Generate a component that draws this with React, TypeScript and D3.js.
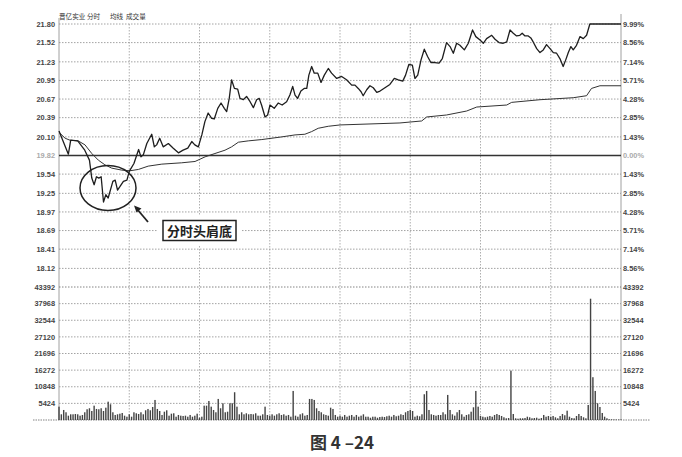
import React from "react";
import * as d3 from "d3";

// minute index (0..240) and price
const priceMinutes = [
  0, 4, 5, 8, 11, 13, 14, 15, 16, 17,
  18, 19, 20, 21, 23, 24, 25, 26, 27.5, 29,
  30, 32, 34, 35, 36, 37.5, 39.6, 40.7, 41.7, 43,
  44.5, 46.7, 48.8, 51, 53, 55, 56.7, 58, 59.5, 61,
  62.3, 63.7, 65.2, 66.3, 67.8, 69.2, 70.6, 71.6, 72.7, 73.7,
  74.9, 76.3, 77.3, 78.7, 80.1, 81.6, 83, 84.4, 85.5, 86.5,
  88, 89.1, 90.1, 91.9, 93.6, 95.3, 97.2, 98.6, 99.8, 100.8,
  101.9, 103.3, 104.7, 105.8, 106.7, 107.9, 109, 110.5, 111.9, 113.3,
  115, 116.4, 118.6, 120.7, 122.8, 125, 126.4, 127.8, 129, 129.9,
  131.4, 132.8, 134.2, 135.7, 137.1, 139.2, 141.3, 143.2, 144.9, 146.8,
  148, 149.4, 150.9, 152, 153.2, 154.6, 156, 157.4, 158.8, 160.5,
  162.3, 163.7, 165.5, 167, 168.4, 169.8, 171.2, 173.1, 174.8, 176.6,
  178, 179.8, 181.2, 182.6, 184.8, 186.2, 187.9, 189.7, 191.2, 192.6,
  194, 195.4, 196.8, 197.8, 199, 200.4, 201.5, 202.5, 204, 205.4,
  206.8, 208.2, 209.7, 211.1, 212.5, 213.9, 215.3, 216.4, 217.5, 218.6,
  219.6, 221, 222.5, 223.9, 225.3, 226.7, 240,
];
const priceValues = [
  20.19, 19.84, 20.05, 20.04, 19.9, 19.75, 19.48, 19.38, 19.5, 19.48,
  19.5, 19.12, 19.23, 19.18, 19.43, 19.45, 19.3, 19.35, 19.43, 19.45,
  19.58, 19.7, 19.91, 19.8, 19.83, 20.0, 20.14, 19.95, 19.98, 20.08,
  19.95, 20.0, 19.93, 19.86, 19.9, 19.93, 20.03, 19.98, 19.95, 20.13,
  20.33, 20.46, 20.38, 20.37, 20.53, 20.61, 20.53, 20.48, 20.68, 20.96,
  20.83, 20.82, 20.68, 20.66, 20.71, 20.63, 20.54, 20.66, 20.68, 20.58,
  20.4, 20.43, 20.58, 20.53, 20.61, 20.58, 20.63, 20.73, 20.86, 20.73,
  20.68, 20.79, 20.83, 20.83, 21.03, 21.16, 21.06, 21.06, 20.92, 21.03,
  21.13, 21.06, 20.98, 21.01, 20.96, 20.88, 20.88, 20.83, 20.78, 20.72,
  20.81, 20.87, 20.84, 20.77, 20.79, 20.84, 20.89, 20.98, 20.96, 20.94,
  21.03, 21.19, 21.18, 20.98, 21.03, 21.26, 21.42, 21.31, 21.22, 21.22,
  21.21, 21.28, 21.52, 21.46, 21.36, 21.51, 21.48, 21.41, 21.51, 21.71,
  21.61, 21.56, 21.51, 21.58, 21.63, 21.57, 21.52, 21.51, 21.53, 21.71,
  21.66, 21.62, 21.63, 21.66, 21.62, 21.62, 21.59, 21.53, 21.43, 21.37,
  21.41, 21.49, 21.43, 21.37, 21.36, 21.28, 21.16, 21.26, 21.37, 21.46,
  21.41, 21.48, 21.61, 21.58, 21.63, 21.8, 21.8,
];

// average price line (均线)
const avgMinutes = [
  0, 2.6, 4.7, 8.2, 11.1, 14, 16.8, 19.6, 22.5, 26.8,
  30.3, 33.9, 38.1, 43.9, 52.4, 58.1, 62.4, 66.6, 70.9, 73.7,
  76.6, 80.8, 86.6, 95.1, 100.8, 105, 107.9, 110.7, 115, 120,
  145.6, 154.9, 157, 165.5, 174.1, 178.4, 191.2, 193.3, 205.4, 219.6,
  225.3, 227.4, 231, 240,
];
const avgValues = [
  20.17, 20.08, 20.05, 20.04, 19.98, 19.85, 19.75, 19.68, 19.63, 19.6,
  19.59, 19.61, 19.66, 19.69, 19.71, 19.73, 19.8, 19.85, 19.9, 19.95,
  20.02, 20.04, 20.06, 20.1, 20.13, 20.14, 20.18, 20.23, 20.26, 20.28,
  20.31, 20.34, 20.4, 20.43, 20.49, 20.55, 20.58, 20.62, 20.66, 20.69,
  20.72, 20.83, 20.87, 20.87,
];

// volume per minute (成交量), minutes 0..240
const volumes = [
  4350, 1860, 3270, 2520, 1410, 1860, 1860, 1960, 1860, 1410,
  1640, 2520, 3500, 3830, 2940, 4680, 3600, 3500, 3830, 2940,
  4020, 5980, 5130, 2520, 1640, 1860, 2060, 2290, 1410, 1080,
  1860, 1080, 2520, 2190, 1960, 2520, 1860, 3170, 3600, 3170,
  4250, 6540, 3600, 2940, 1640, 2710, 3170, 1410, 2060, 2190,
  1080, 1640, 1410, 1310, 1410, 1080, 1640, 1080, 1410, 2060,
  750, 1080, 4680, 4680, 6210, 4350, 3270, 2520, 6870, 3830,
  5460, 2520, 2710, 5460, 5460, 9060, 4350, 1860, 2520, 1860,
  2190, 1860, 1960, 1860, 2190, 1410, 1410, 1860, 4350, 1640,
  1410, 1860, 1410, 1860, 2190, 1640, 1860, 1410, 1640, 1080,
  9480, 1410, 1080, 1860, 2190, 1410, 1640, 6870, 6870, 6540,
  3830, 2940, 2520, 1860, 1640, 1410, 4020, 3600, 1640, 1080,
  1410, 1080, 1640, 1080, 1410, 1640, 1080, 1640, 1080, 1410,
  1860, 1080, 1080, 750, 1080, 1080, 750, 980, 1080, 980,
  1210, 1410, 1080, 1640, 1210, 1410, 1860, 1640, 2520, 2940,
  3270, 2940, 1080, 1410, 1210, 1860, 8400, 9480, 3270, 1860,
  1640, 1410, 1640, 1640, 2520, 1860, 8180, 3270, 1860, 1410,
  2520, 3270, 1860, 1080, 1640, 1860, 2710, 4150, 9480, 4350,
  1310, 1080, 880, 1080, 1310, 1080, 1640, 1960, 1640, 1310,
  880, 560, 650, 16120, 1960, 560, 430, 560, 560, 650,
  1080, 880, 560, 650, 750, 430, 650, 1640, 1080, 1310,
  1080, 1310, 880, 560, 1310, 1960, 1540, 3040, 1080, 650,
  560, 1310, 1960, 1310, 880, 560, 4900, 39570, 13960, 9480,
  5460, 4250, 2290, 1080, 560, 230, 230, 160, 160, 160, 160,
];

const priceTicks = [21.8, 21.52, 21.23, 20.95, 20.67, 20.39, 20.1, 19.82, 19.54, 19.25, 18.97, 18.69, 18.41, 18.12];
const pctTicks = ["9.99%", "8.56%", "7.14%", "5.71%", "4.28%", "2.85%", "1.43%", "0.00%", "1.43%", "2.85%", "4.28%", "5.71%", "7.14%", "8.56%"];
const volTicks = [43392, 37968, 32544, 27120, 21696, 16272, 10848, 5424];
const timeTicks = [0, 30, 60, 90, 120, 150, 180, 210, 240];
const prevClose = 19.82;

const numFont = "'Liberation Sans', Arial, sans-serif";
const cjkFont = "'Noto Sans CJK SC', sans-serif";

export default function App() {
  const W = 682;
  const H = 457;
  const x = d3.scaleLinear().domain([0, 240]).range([59, 621]);
  const y = d3.scaleLinear().domain([17.84, 21.8]).range([287, 24]);
  const yv = d3.scaleLinear().domain([0, 43392]).range([420, 287]);

  const priceLine = d3
    .line<number>()
    .x((_, i) => x(priceMinutes[i]))
    .y((d) => y(d));
  const avgLine = d3
    .line<number>()
    .x((_, i) => x(avgMinutes[i]))
    .y((d) => y(d));

  const gridColor = "#8c8c8c";

  return (
    <svg width={W} height={H} style={{ position: "absolute", left: 0, top: 0, background: "#fff" }}>
      <rect width={W} height={H} fill="#fff" />

      {/* title */}
      <text x={59} y={19} fontFamily={cjkFont} fontSize={6.6} fill="#333">
        晋亿实业
      </text>
      <text x={87} y={19} fontFamily={cjkFont} fontSize={6.6} fill="#333">
        分时
      </text>
      <text x={110} y={19} fontFamily={cjkFont} fontSize={6.6} fill="#333">
        均线
      </text>
      <text x={126} y={19} fontFamily={cjkFont} fontSize={6.6} fill="#333">
        成交量
      </text>

      {/* vertical grid */}
      {timeTicks.slice(1, -1).map((t) => (
        <line key={"v" + t} x1={x(t)} x2={x(t)} y1={24} y2={420} stroke={gridColor} strokeWidth={0.7} strokeDasharray="1.5 1.5" />
      ))}
      <line x1={59} x2={59} y1={18} y2={420} stroke="#888" strokeWidth={0.8} />
      <line x1={621} x2={621} y1={14} y2={420} stroke="#888" strokeWidth={0.8} />

      {/* price grid + labels */}
      {priceTicks.map((p, i) => {
        const yy = y(p);
        const center = p === prevClose;
        return (
          <g key={"p" + i}>
            {center ? (
              <line x1={59} x2={621} y1={yy} y2={yy} stroke="#333" strokeWidth={1.6} />
            ) : (
              <line x1={59} x2={621} y1={yy} y2={yy} stroke={gridColor} strokeWidth={0.8} strokeDasharray="1.5 1.5" />
            )}
            <text x={55} y={yy + 2.7} textAnchor="end" fontFamily={numFont} fontSize={7.4} fontWeight="bold" fill={center ? "#aaa" : "#444"}>
              {p.toFixed(2)}
            </text>
            <text x={623} y={yy + 2.7} fontFamily={numFont} fontSize={7.4} fontWeight="bold" fill={center ? "#aaa" : "#444"}>
              {pctTicks[i]}
            </text>
          </g>
        );
      })}

      {/* volume grid + labels */}
      {volTicks.map((v) => (
        <g key={"vt" + v}>
          <line x1={59} x2={621} y1={yv(v)} y2={yv(v)} stroke={v === 43392 ? "#666" : gridColor} strokeWidth={0.8} strokeDasharray="1.5 1.5" />
          <text x={55} y={yv(v) + 2.7} textAnchor="end" fontFamily={numFont} fontSize={7.4} fontWeight="bold" fill="#444">
            {v}
          </text>
          <text x={623} y={yv(v) + 2.7} fontFamily={numFont} fontSize={7.4} fontWeight="bold" fill="#444">
            {v}
          </text>
        </g>
      ))}
      <line x1={33} x2={650} y1={420} y2={420} stroke="#777" strokeWidth={0.9} strokeDasharray="1.5 1" />

      {/* volume bars */}
      {volumes.map((v, i) => (
        <rect key={"b" + i} x={x(i) - 0.7} y={yv(v)} width={1.4} height={420 - yv(v)} fill="#444" />
      ))}

      {/* average and price lines */}
      <path d={avgLine(avgValues) || ""} fill="none" stroke="#333" strokeWidth={1} />
      <path d={priceLine(priceValues) || ""} fill="none" stroke="#1e1e1e" strokeWidth={1.3} strokeLinejoin="round" />

      {/* annotation */}
      <ellipse cx={108} cy={188} rx={28} ry={22.5} fill="none" stroke="#222" strokeWidth={1.5} />
      <line x1={148} y1={222} x2={137} y2={209} stroke="#222" strokeWidth={1.8} />
      <path d="M134,205.5 L141.5,208.5 L136.5,212.5 Z" fill="#222" />
      <rect x={157} y={215} width={84} height={30} fill="#fff" />
      <rect x={163} y={220.5} width={73} height={20} fill="#fff" stroke="#222" strokeWidth={1.5} />
      <text x={199.5} y={235.5} textAnchor="middle" fontFamily={cjkFont} fontSize={13} fontWeight="bold" fill="#222">
        分时头肩底
      </text>

      {/* caption */}
      <text x={342} y={449} textAnchor="middle" fontFamily={cjkFont} fontSize={17} fontWeight="bold" fill="#333">
        图 4 –24
      </text>
    </svg>
  );
}
